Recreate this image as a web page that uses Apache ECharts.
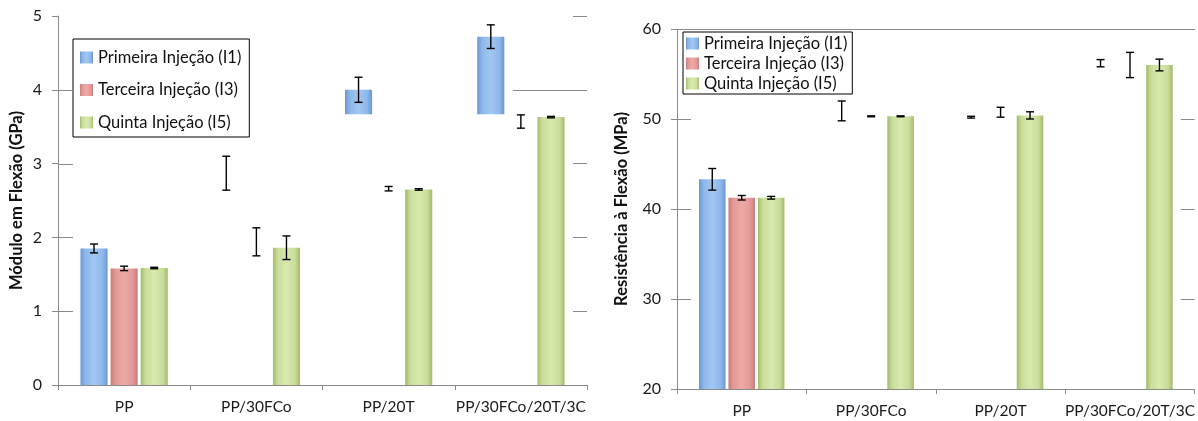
<!DOCTYPE html>
<html>
<head>
<meta charset="utf-8">
<script src="https://cdn.jsdelivr.net/npm/echarts@6/dist/echarts.min.js"></script>
<style>
  html, body { margin: 0; padding: 0; background: #fff; }
  #chart { width: 1198px; height: 421px; }
</style>
</head>
<body>
<div id="chart"></div>
<script>
const categories = ['PP', 'PP/30FCo', 'PP/20T', 'PP/30FCo/20T/3C']
const seriesNames = ['Primeira Injeção (I1)', 'Terceira Injeção (I3)', 'Quinta Injeção (I5)']

// Módulo em Flexão (GPa)
const moduloTicks = [1, 2, 3, 4]
const moduloI1 = [1.85, 2.87, 4.0, 4.72]
const moduloI3 = [1.58, 1.94, 2.66, 3.57]
const moduloI5 = [1.585, 1.86, 2.65, 3.63]
const moduloI1Err = [0.06, 0.23, 0.17, 0.16]
const moduloI3Err = [0.03, 0.19, 0.03, 0.09]
const moduloI5Err = [0.01, 0.16, 0.01, 0.01]

// Resistência à Flexão (MPa)
const resistTicks = [30, 40, 50]
const resistI1 = [43.3, 50.9, 50.2, 56.2]
const resistI3 = [41.25, 50.3, 50.75, 56.0]
const resistI5 = [41.25, 50.3, 50.4, 56.0]
const resistI1Err = [1.2, 1.1, 0.1, 0.4]
const resistI3Err = [0.25, 0.05, 0.55, 1.4]
const resistI5Err = [0.15, 0.05, 0.4, 0.65]

// where each bar starts being painted in the source picture (null = bar not painted)
const moduloShownFrom = [[0, null, 3.67, 3.67], [0, null, null, null], [0, 0, 0, 0]]
const resistShownFrom = [[0, null, null, null], [0, null, null, null], [0, 0, 0, 0]]

const BAR_W = 0.205
const BAR_GAP = 0.11
const FONT = 'Lato, "Open Sans", sans-serif'
const AXIS_GRAY = '#8a8a8a'

const glass = (edge, mid, light) => new echarts.graphic.LinearGradient(0, 0, 1, 0, [
  { offset: 0, color: edge },
  { offset: 0.18, color: mid },
  { offset: 0.5, color: light },
  { offset: 0.82, color: mid },
  { offset: 1, color: edge }
])
const colors = [
  glass('#6b98d4', '#8cb7ea', '#a2c7f1'),
  glass('#c97d7b', '#e39896', '#eeaaa8'),
  glass('#a4ba69', '#c9dd9a', '#d8e9ad')
]

const errorRender = (slot) => (params, api) => {
  const cat = api.value(0)
  const v = api.value(1)
  const e = api.value(2)
  const band = api.size([1, 0])[0]
  const bw = band * BAR_W
  const x = api.coord([cat, v])[0] + (slot - 1) * bw * (1 + BAR_GAP)
  const hi = api.coord([cat, v + e])[1]
  const lo = api.coord([cat, v - e])[1]
  const style = { stroke: '#000', lineWidth: 1.4 }
  return {
    type: 'group',
    children: [
      { type: 'line', shape: { x1: x, y1: hi, x2: x, y2: lo }, style },
      { type: 'line', shape: { x1: x - 4, y1: hi, x2: x + 4, y2: hi }, style },
      { type: 'line', shape: { x1: x - 4, y1: lo, x2: x + 4, y2: lo }, style }
    ]
  }
}

const buildSeries = (gi, values, errors, shownFrom) => {
  const out = []
  values.forEach((vals, s) => {
    const stack = 'g' + gi + 's' + s
    out.push({
      type: 'bar', name: 'base', xAxisIndex: gi * 2, yAxisIndex: gi * 2, stack,
      barWidth: (BAR_W * 100) + '%', barGap: (BAR_GAP * 100) + '%', silent: true,
      itemStyle: { color: 'rgba(0,0,0,0)' },
      data: vals.map((v, i) => shownFrom[s][i] === null ? 0 : shownFrom[s][i])
    })
    out.push({
      type: 'bar', name: seriesNames[s], xAxisIndex: gi * 2, yAxisIndex: gi * 2, stack,
      barWidth: (BAR_W * 100) + '%', barGap: (BAR_GAP * 100) + '%',
      itemStyle: { color: colors[s] },
      data: vals.map((v, i) => shownFrom[s][i] === null ? '-' : v - shownFrom[s][i])
    })
  })
  values.forEach((vals, s) => {
    out.push({
      type: 'custom', name: 'err', xAxisIndex: gi * 2, yAxisIndex: gi * 2, z: 5,
      renderItem: errorRender(s), encode: { x: 0, y: 1 },
      data: vals.map((v, i) => [i, v, errors[s][i]])
    })
  })
  return out
}

const makeAxes = (gi, min, max, interval, name, nameGap) => {
  const xAxes = [
    {
      type: 'category', gridIndex: gi, position: 'bottom', data: categories,
      axisLine: { lineStyle: { color: AXIS_GRAY } },
      axisTick: { show: true, length: 5, lineStyle: { color: AXIS_GRAY } },
      axisLabel: { color: '#1a1a1a', fontSize: 15.5, fontFamily: FONT, margin: 14, interval: 0 }
    },
    {
      type: 'category', gridIndex: gi, position: 'top', data: categories,
      axisLine: { lineStyle: { color: AXIS_GRAY } },
      axisTick: { show: false }, axisLabel: { show: false }
    }
  ]
  const yAxes = [
    {
      type: 'value', gridIndex: gi, position: 'left', min, max, interval,
      name, nameLocation: 'middle', nameGap,
      nameTextStyle: { fontSize: 16.5, fontWeight: 'bold', fontFamily: FONT, color: '#111' },
      axisLine: { show: true, lineStyle: { color: AXIS_GRAY } },
      axisTick: { show: true, length: 6, lineStyle: { color: AXIS_GRAY } },
      axisLabel: { color: '#1a1a1a', fontSize: 16, fontFamily: FONT, margin: 16 },
      splitLine: { show: false }
    },
    {
      type: 'value', gridIndex: gi, position: 'right', min, max, interval,
      axisLine: { show: false },
      axisTick: { show: true, inside: true, length: 14, lineStyle: { color: AXIS_GRAY } },
      axisLabel: { show: false }, splitLine: { show: false }
    }
  ]
  return { xAxes, yAxes }
}

const left = makeAxes(0, 0, 5, 1, 'Módulo em Flexão (GPa)', 33)
const right = makeAxes(1, 20, 60, 10, 'Resistência à Flexão (MPa)', 47)

const legendBase = {
  orient: 'vertical', data: seriesNames, icon: 'rect',
  itemWidth: 13, itemHeight: 12, borderColor: '#000', borderWidth: 1,
  textStyle: { fontSize: 16.5, fontFamily: FONT, color: '#111', lineHeight: 19 },
  selectedMode: false
}

const leftBox = { left: 58, right: 611, top: 16, bottom: 36 }
const rightBox = { left: 677, right: 3, top: 29, bottom: 32 }

const chart = echarts.init(document.getElementById('chart'))
chart.setOption({
  animation: false,
  grid: [leftBox, rightBox],
  legend: [
    Object.assign({}, legendBase, { left: 73, top: 39, itemGap: 13.5, padding: [9, 8, 5, 7] }),
    Object.assign({}, legendBase, { left: 683, top: 32, itemGap: 1, padding: [2, 5, 1, 3] })
  ],
  xAxis: left.xAxes.concat(right.xAxes),
  yAxis: left.yAxes.concat(right.yAxes),
  series: buildSeries(0, [moduloI1, moduloI3, moduloI5], [moduloI1Err, moduloI3Err, moduloI5Err], moduloShownFrom)
    .concat(buildSeries(1, [resistI1, resistI3, resistI5], [resistI1Err, resistI3Err, resistI5Err], resistShownFrom))
})

// the few pieces of grid line that show through in the source, placed with the axis scale
const hLine = (yAxisIndex, value, x1, x2) => {
  const y = Math.round(chart.convertToPixel({ yAxisIndex }, value)) + 0.5
  return {
    type: 'line', silent: true, z: 100,
    shape: { x1, y1: y, x2, y2: y },
    style: { stroke: AXIS_GRAY, lineWidth: 1 }
  }
}
const elements = []
moduloTicks.forEach((t) => elements.push(hLine(0, t, leftBox.left, leftBox.left + 15)))
resistTicks.forEach((t) => elements.push(hLine(2, t, rightBox.left, rightBox.left + 14)))
const lastCatX = chart.convertToPixel({ xAxisIndex: 0 }, categories[3])
elements.push(hLine(0, 4, lastCatX - 8, chart.getWidth() - leftBox.right))
chart.setOption({ graphic: { elements } })
</script>
</body>
</html>
